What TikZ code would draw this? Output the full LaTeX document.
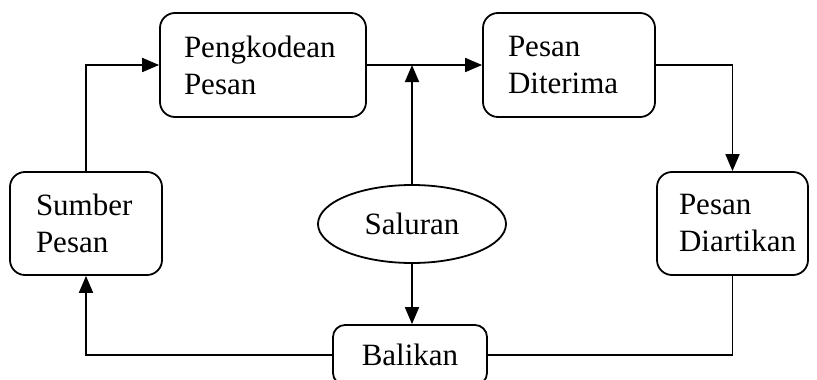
\documentclass[tikz,border=0pt]{standalone}
\usepackage{fontspec}
\setmainfont{Liberation Serif}
\usetikzlibrary{arrows.meta,shapes.geometric}
\begin{document}
\begin{tikzpicture}[x=1pt,y=-1pt,
  every node/.style={font=\fontsize{31}{37}\selectfont},
  box/.style={draw, rounded corners=15pt, line width=1.8pt, align=left, inner ysep=0pt, minimum height=104pt},
  conn/.style={line width=1.8pt},
  arr/.style={conn, -{Triangle[length=17pt,width=14pt]}}]
\useasboundingbox (0,0) rectangle (817,380);
\node[box, inner xsep=24pt, text width=158pt] (peng) at (263,65) {Pengkodean\\Pesan};
\node[box, inner xsep=25pt, text width=122pt] (diterima) at (569,65) {Pesan\\Diterima};
\node[box, inner xsep=26pt, text width=100pt, minimum height=103pt] (sumber) at (86,223.5) {Sumber\\Pesan};
\node[box, inner xsep=22pt, text width=107pt, minimum height=103pt] (diartikan) at (732.5,223.5) {Pesan\\Diartikan};
\node[draw, ellipse, line width=1.8pt, minimum width=188pt, minimum height=78pt, inner sep=0pt] (saluran) at (412,224) {Saluran};
\node[draw, rounded corners=12pt, line width=1.8pt, minimum width=154pt, minimum height=60pt, inner sep=0pt] (balikan) at (410,355) {Balikan};
\draw[arr] (sumber.north) |- (peng.west);
\draw[arr] (peng.east) -- (diterima.west);
\draw[arr] (saluran.north) -- (saluran.north |- peng.east);
\draw[arr] (diterima.east) -| (diartikan.north);
\draw[arr] (saluran.south) -- (saluran.south |- balikan.north);
\draw[arr] (balikan.west) -| (sumber.south);
\draw[conn] (balikan.east) -| (diartikan.south);
\end{tikzpicture}
\end{document}
